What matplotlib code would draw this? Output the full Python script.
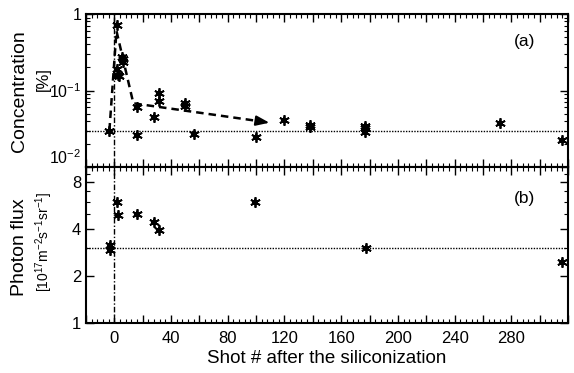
import matplotlib
matplotlib.use("Agg")
import matplotlib.pyplot as plt
import numpy as np
from matplotlib.ticker import FixedLocator, FuncFormatter, MultipleLocator

plt.rcParams["font.family"] = ["Liberation Sans", "DejaVu Sans"]
plt.rcParams["mathtext.default"] = "regular"

# (a) impurity concentration [%]
conc_x = [-3.5, 1.9, 1.9, 2.8, 3.5, 5.9, 6.3, 5.5, 15.8, 16.0, 28.2, 31.3, 31.3,
          50.0, 50.0, 56.0, 99.8, 119.8, 137.7, 137.7, 176.7, 176.7, 176.7, 271.8, 315.8]
conc_y = [0.030, 0.72, 0.19, 0.16, 0.155, 0.256, 0.235, 0.275, 0.061, 0.026, 0.045, 0.092, 0.074,
          0.068, 0.062, 0.027, 0.0244, 0.041, 0.035, 0.033, 0.034, 0.032, 0.029, 0.038, 0.0225]
conc_ref = 0.03

# dashed trend guide
trend_x = [-3.5, 1.5, 13.4, 101.0]
trend_y = [0.030, 0.60, 0.068, 0.040]
arrow_tip = (109.4, 0.0379)

# (b) photon flux [1e17 m^-2 s^-1 sr^-1]
flux_x = [-3.0, -3.0, 1.7, 2.8, 15.8, 28.0, 31.5, 99.3, 177.2, 315.8]
flux_y = [3.15, 2.95, 5.93, 4.92, 4.97, 4.45, 3.94, 5.93, 3.0, 2.46]
flux_ref = 3.0

xticks_labeled = [0, 40, 80, 120, 160, 200, 240, 280]

W, H = 574, 373
fig = plt.figure(figsize=(W / 100, H / 100), dpi=100)
left, right = 86 / W, 568 / W
ax1 = fig.add_axes([left, 1 - 167 / H, right - left, (167 - 14) / H])
ax2 = fig.add_axes([left, 1 - 322.7 / H, right - left, (322.7 - 167) / H])

ast = dict(marker=(6, 2, 0), ms=7.5, mew=1.3, color="k", ls="none")
ast2 = dict(marker=(4, 2, 0), ms=5, mew=1.2, color="k", ls="none")

ax1.plot(conc_x, conc_y, **ast)
ax1.plot(conc_x, conc_y, **ast2)
ax1.axhline(conc_ref, color="k", ls=(0, (1, 1)), lw=1)
ax1.plot(trend_x, trend_y, color="k", ls=(0, (3, 2)), lw=1.8)
ax1.annotate("", xy=arrow_tip, xytext=(trend_x[-1], trend_y[-1]),
             arrowprops=dict(arrowstyle="-|>,head_length=0.8,head_width=0.3",
                             color="k", lw=1.5, shrinkA=0, shrinkB=0))
ax1.set_yscale("log")
ax1.set_ylim(0.01, 1)
ax1.yaxis.set_major_locator(FixedLocator([0.01, 0.1, 1]))
ax1.yaxis.set_major_formatter(FuncFormatter(
    lambda v, p: {0.01: "$10^{-2}$", 0.1: "$10^{-1}$", 1: "1"}.get(round(v, 3), "")))
ax1.yaxis.set_minor_locator(FixedLocator(
    [k * 0.01 for k in range(2, 10)] + [k * 0.1 for k in range(2, 10)]))
ax1.text(0.91, 0.82, "(a)", transform=ax1.transAxes, ha="center", va="center", fontsize=12.5)

ax2.plot(flux_x, flux_y, **ast)
ax2.plot(flux_x, flux_y, **ast2)
ax2.axhline(flux_ref, color="k", ls=(0, (1, 1)), lw=1)
ax2.set_yscale("log")
ax2.set_ylim(1, 10)
ax2.yaxis.set_major_locator(FixedLocator([1, 2, 4, 8, 10]))
# the "10" at the panel join merges with the 10^-2 label of panel (a)
ax2.yaxis.set_major_formatter(FuncFormatter(lambda v, p: "" if v >= 10 else f"{v:g}"))
ax2.yaxis.set_minor_locator(FixedLocator([3, 5, 6, 7, 9]))
ax2.yaxis.set_minor_formatter(FuncFormatter(lambda v, p: ""))
ax2.text(0.91, 0.80, "(b)", transform=ax2.transAxes, ha="center", va="center", fontsize=12.5)

for ax in (ax1, ax2):
    ax.axvline(0, color="k", ls=(0, (4, 1.5, 1, 1.5)), lw=1)
    ax.set_xlim(-20, 320)
    ax.xaxis.set_major_locator(MultipleLocator(20))
    ax.xaxis.set_minor_locator(MultipleLocator(4))
    ax.tick_params(which="both", direction="in", top=True, right=True, labelsize=12)
    ax.tick_params(which="major", length=6, width=1)
    ax.tick_params(which="minor", length=3, width=0.8)
    for s in ax.spines.values():
        s.set_linewidth(1.5)

ax1.tick_params(axis="y", labelsize=11.5)
ax1.tick_params(axis="x", labelbottom=False)
fig.canvas.draw()
ax1.get_yticklabels()[0].set_va("bottom")
ax2.tick_params(axis="x", pad=6)
ax2.xaxis.set_major_formatter(FuncFormatter(
    lambda v, p: f"{v:g}" if v in xticks_labeled else ""))
ax2.set_xlabel("Shot # after the siliconization", fontsize=13.5, labelpad=3)

fig.text(20 / W, 1 - 91 / H, "Concentration", rotation=90, ha="center", va="center", fontsize=14)
fig.text(43 / W, 1 - 79 / H, "[%]", rotation=90, ha="center", va="center", fontsize=12)
fig.text(20 / W, 1 - 247 / H, "Photon flux", rotation=90, ha="center", va="center", fontsize=14)
fig.text(44 / W, 1 - 242 / H, "[$10^{17}$m$^{-2}$s$^{-1}$sr$^{-1}$]", rotation=90,
         ha="center", va="center", fontsize=10)

fig.savefig("out.png", dpi=100)
